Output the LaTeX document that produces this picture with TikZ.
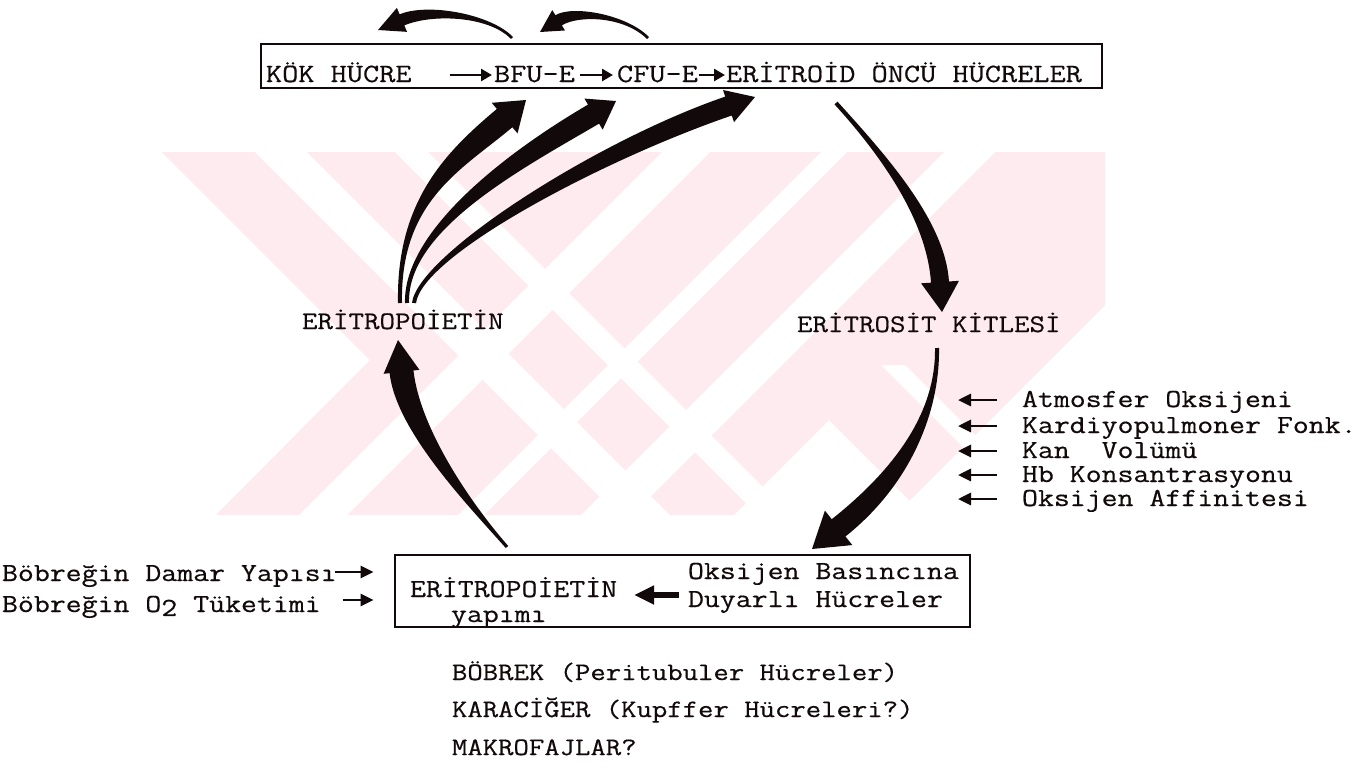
\documentclass[tikz,border=0pt]{standalone}
\usepackage{fontspec}
\newfontfamily\tw{Latin Modern Mono}[FakeStretch=1.19, FakeBold=0.5]
\usetikzlibrary{calc,arrows.meta}
\definecolor{wmpink}{RGB}{253,235,239}
\definecolor{ink}{RGB}{18,10,10}
% tapered curved arrow: #1 start, #2 c1, #3 c2, #4 tip, #5 tail half, #6 body half, #7 head half, #8 head length
\newcommand{\taper}[8]{%
  \coordinate (tpHB) at ($(#4)!#8!(#3)$);
  \coordinate (tpBL) at ($(tpHB)!#6!90:(#4)$);
  \coordinate (tpBR) at ($(tpHB)!#6!-90:(#4)$);
  \coordinate (tpHL) at ($(tpHB)!#7!90:(#4)$);
  \coordinate (tpHR) at ($(tpHB)!#7!-90:(#4)$);
  \coordinate (tpSL) at ($(#1)!#5!90:(#2)$);
  \coordinate (tpSR) at ($(#1)!#5!-90:(#2)$);
  \fill[ink] (tpSL) .. controls ($(#2)+(tpSL)-(#1)$) and ($(#3)+(tpBL)-(tpHB)$) .. (tpBL)
     -- (tpHL) -- (#4) -- (tpHR) -- (tpBR)
     .. controls ($(#3)+(tpBR)-(tpHB)$) and ($(#2)+(tpSR)-(#1)$) .. (tpSR) -- cycle;
}
\tikzset{
  txt/.style={anchor=base west, inner sep=0pt, outer sep=0pt, text=ink, font=\tw\fontsize{13}{15}\selectfont},
  txtL/.style={txt, font=\tw\fontsize{13.2}{15}\selectfont},
  txtM/.style={txt, font=\tw\fontsize{12.65}{15}\selectfont},
  txtS/.style={txt, font=\tw\fontsize{12.55}{15}\selectfont},
  frame/.style={draw=ink, line width=1.4pt, inner sep=0pt},
  tarrow/.style={draw=ink, line width=1.3pt, -{Triangle[length=5.5pt,width=6pt]}},
  sarrow/.style={draw=ink, line width=1.4pt, -{Triangle[length=6.5pt,width=6pt]}},
  marrow/.style={draw=ink, line width=3pt, -{Triangle[length=10pt,width=9pt]}},
  wmstripe/.style={fill=white},
}
\begin{document}
\begin{tikzpicture}[x=0.5pt, y=-0.5pt]
\useasboundingbox (0,0) rectangle (1370,778);
\fill[white] (0,0) rectangle (1370,778);
% watermark
\begin{scope}
  \clip (162,152) -- (1105,152) -- (1105,305) -- (895,515) -- (216,515) -- (370,360) -- cycle;
  \fill[wmpink] (0,152) rectangle (1370,515);
  \fill[wmstripe] (255,152) -- (307,152) -- (670,515) -- (618,515) -- cycle;
  \fill[wmstripe] (395,152) -- (428,152) -- (791,515) -- (758,515) -- cycle;
  \fill[wmstripe] (881,365) -- (905,365) -- (1055,515) -- (1031,515) -- cycle;
  \fill[wmstripe] (662,152) -- (710,152) -- (347,515) -- (299,515) -- cycle;
  \fill[wmstripe] (821,152) -- (847,152) -- (484,515) -- (458,515) -- cycle;
  \fill[wmstripe] (944,152) -- (995,152) -- (632,515) -- (581,515) -- cycle;
  \fill[wmstripe] (829,420) -- (924,515) -- (734,515) -- cycle;
\end{scope}

% top box
\node[frame, minimum width=420.5pt, minimum height=22pt] (topbox) at (681.5,66) {};
\node[txtL] (kok) at (266,82) {KÖK HÜCRE};
\node[txtL] (bfu) at (494,82) {BFU-E};
\node[txtL] (cfu) at (617,82) {CFU-E};
\node[txtL] (ero) at (726,82) {ERİTROİD ÖNCÜ HÜCRELER};
\draw[tarrow] ($(kok.base east)+(38,-7)$) -- ($(bfu.base west)+(-2,-7)$);
\draw[tarrow] ($(bfu.base east)+(5,-7)$) -- ($(cfu.base west)+(-4,-7)$);
\draw[tarrow] ($(cfu.base east)+(1,-7)$) -- ($(ero.base west)+(-1,-7)$);

% side labels
\node[txtM] (epo) at (302,329) {ERİTROPOİETİN};
\node[txtM] (ekit) at (797,332) {ERİTROSİT KİTLESİ};

% right list
\node[txt] (atm) at (1022,407) {Atmosfer Oksijeni};
\node[txt] (kar) at (1022,433) {Kardiyopulmoner Fonk.};
\node[txt] (kan) at (1022,458) {Kan\ \ Volümü};
\node[txt] (hb)  at (1022,482) {Hb Konsantrasyonu};
\node[txt] (oaf) at (1022,506) {Oksijen Affinitesi};
\foreach \n/\yy in {atm/400,kar/426,kan/451,hb/475,oaf/499}{
  \coordinate (\n T) at (958,\yy);
  \draw[sarrow] ($(\n.base west |- \n T)+(-25,0)$) -- (\n T);
}

% bottom box
\node[frame, minimum width=287.5pt, minimum height=36pt] (bbox) at (682.5,591) {};
\node[txt] (bepo) at (410,597) {ERİTROPOİETİN};
\node[txt] (yap) at (451,622) {yapımı};
\node[txt] (obas) at (688,579) {Oksijen Basıncına};
\node[txt] (oduy) at (688,607) {Duyarlı Hücreler};
\draw[marrow] ($(obas.base west)+(-9,16)$) -- ($(bepo.base east)+(17,-2)$);

% left inputs
\node[txt] (bdy) at (2,581) {Böbreğin Damar Yapısı};
\node[txt] (bo2) at (2,612) {Böbreğin O\raisebox{-0.35ex}{2} Tüketimi};
\draw[sarrow] ($(bdy.base east)+(-2,-9)$) -- ($(bbox.west |- bdy.base east)+(-20,-9)$);
\draw[sarrow] ($(bbox.west |- bo2.base east)+(-51,-12)$) -- ($(bbox.west |- bo2.base east)+(-20,-12)$);

% bottom notes
\node[txtS] (n1) at (452,680) {BÖBREK (Peritubuler Hücreler)};
\node[txtS] (n2) at (452,717) {KARACİĞER (Kupffer Hücreleri?)};
\node[txtS] (n3) at (452,755) {MAKROFAJLAR?};

% anchor coordinates for big arrows
\coordinate (topA) at (836,103);   \coordinate (ekitN) at (942,312);
\coordinate (ekitS) at (937,348);  \coordinate (bboxNE) at (812,549);
\coordinate (bboxN) at (507,547);  \coordinate (epoS) at (398,340);
\coordinate (epoN1) at (400,303);  \coordinate (bfuS) at (526,100);
\coordinate (epoN2) at (407,303);  \coordinate (cfuS) at (616,101);
\coordinate (epoN3) at (414,303);  \coordinate (eroS) at (755,97);
\coordinate (bfuN) at (512,38);    \coordinate (kokN) at (378,30);
\coordinate (cfuN) at (648,38);    \coordinate (bfuNW) at (540,32);

\taper{topA}{886,158}{936,222}{ekitN}{1pt}{4.5pt}{9.5pt}{15pt}
\taper{ekitS}{938,410}{905,475}{bboxNE}{1pt}{5.5pt}{11pt}{17pt}
\taper{bboxN}{470,505}{408,430}{epoS}{0.8pt}{6pt}{9pt}{16pt}
\taper{epoN1}{398,200}{455,160}{bfuS}{1pt}{6pt}{10pt}{14pt}
\taper{epoN2}{405,230}{515,160}{cfuS}{1pt}{5.5pt}{9pt}{13pt}
\taper{epoN3}{420,255}{600,150}{eroS}{1pt}{5pt}{8.5pt}{14pt}
\taper{bfuN}{490,15}{430,8}{kokN}{0.7pt}{3pt}{6.5pt}{13pt}
\taper{cfuN}{625,15}{575,10}{bfuNW}{0.7pt}{3pt}{6pt}{11pt}
\end{tikzpicture}
\end{document}
